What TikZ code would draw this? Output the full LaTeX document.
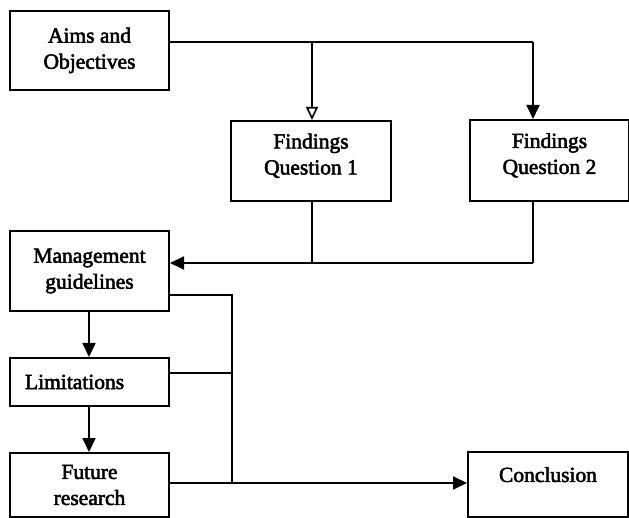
\documentclass[tikz,border=0pt]{standalone}
\usepackage{fontspec}
\setmainfont{Liberation Serif}[BoldFont={Liberation Serif},BoldFeatures={FakeBold=2.5}]
\usetikzlibrary{arrows.meta}
\begin{document}
\begin{tikzpicture}[x=1pt,y=-1pt,
  box/.style={draw,line width=2pt,anchor=north west,align=center,inner sep=0pt,
    font=\fontsize{21.5}{26}\selectfont\bfseries},
  link/.style={line width=1.8pt},
  arr/.style={link,-{Triangle[length=14pt,width=13pt]}},
  oarr/.style={link,-{Triangle[open,length=13pt,width=12pt,line width=1.6pt]}}]
\useasboundingbox (0,0) rectangle (629,518);
% boxes
\node[box,minimum width=159pt,minimum height=79pt] (aims) at (9,10) {Aims and\\Objectives};
\node[box,minimum width=160pt,minimum height=80pt] (q1) at (230,120) {Findings\\Question 1\\[-12pt]};
\node[box,minimum width=159pt,minimum height=81pt] (q2) at (469,119) {Findings\\Question 2\\[-12pt]};
\node[box,minimum width=159pt,minimum height=80pt] (mg) at (9,230) {Management\\guidelines};
\node[box,minimum width=159pt,minimum height=48pt,text width=145pt,align=left] (lim) at (9,357) {\hspace*{8pt}Limitations};
\node[box,minimum width=159pt,minimum height=64pt] (fut) at (9,452) {Future\\research};
\node[box,minimum width=160pt,minimum height=65pt] (conc) at (467,451) {Conclusion\\[-6pt]};
% junction points
\coordinate (top1) at (312,42);
\coordinate (top2) at (533,42);
\coordinate (mid1) at (312,263);
\coordinate (mid2) at (533,263);
\coordinate (bus) at (232,295);
\coordinate (bus2) at (232,483);
% connectors
\draw[link] (aims.east |- top1) -- (top2);
\draw[oarr] (top1) -- (q1.north -| top1);
\draw[arr] (top2) -- (q2.north -| top2);
\draw[link] (q1.south -| mid1) -- (mid1);
\draw[link] (q2.south -| mid2) -- (mid2);
\draw[arr] (mid2) -- (mg.east |- mid2);
\draw[link] (mg.east |- bus) -- (bus) -- (bus2);
\draw[link] (lim.east |- 0,373) -- (bus |- 0,373);
\draw[arr] (fut.east |- bus2) -- (conc.west |- bus2);
\draw[arr] (mg.south -| 89,0) -- (lim.north -| 89,0);
\draw[arr] (lim.south -| 89,0) -- (fut.north -| 89,0);
\end{tikzpicture}
\end{document}
